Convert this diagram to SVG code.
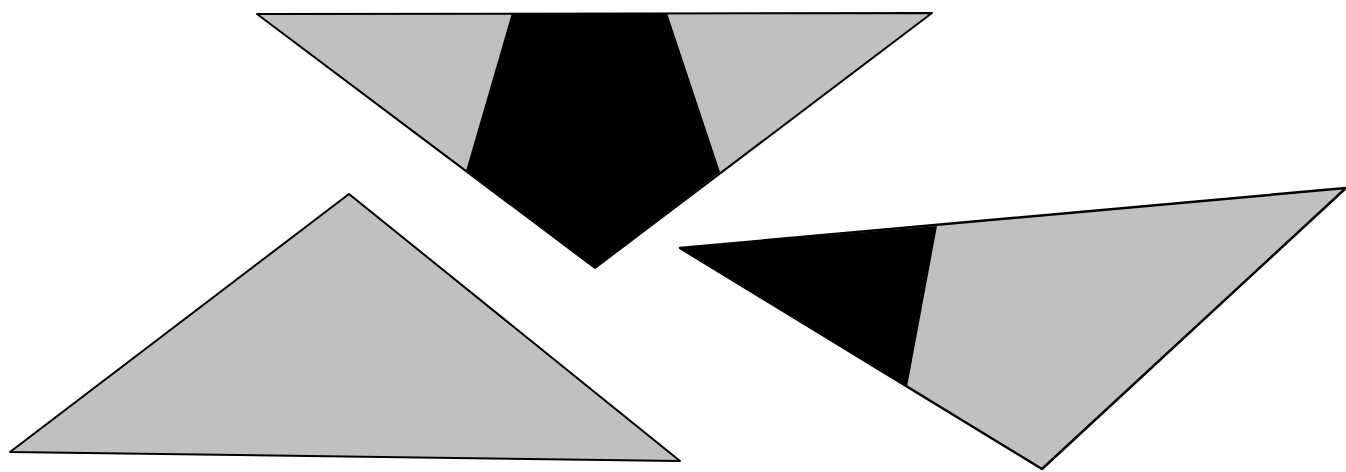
<svg xmlns="http://www.w3.org/2000/svg" width="1346" height="472" viewBox="0 0 1346 472">
<style>
.g{fill:#c0c0c0;stroke:none}
.b{fill:#000;stroke:none}
.o{fill:none;stroke:#000;stroke-width:2;stroke-linejoin:round}
</style>
<rect width="1346" height="472" fill="#fff"/>
<g id="top-triangle">
<polygon class="g" points="257,14 932,13 595,268"/>
<polygon class="b" points="512,13 667,13 720,172 595,268 466,171"/>
<polygon class="o" points="257,14 932,13 595,268"/>
</g>
<g id="left-triangle">
<polygon class="g" points="349,194 10,452 680,461"/>
<polygon class="o" points="349,194 10,452 680,461"/>
</g>
<g id="right-triangle">
<polygon class="g" points="680,248 1346,188 1042,469"/>
<polygon class="b" points="680,248 937,226 907,387"/>
<polygon class="o" points="680,248 1346,188 1042,469" style="stroke-width:2.5"/>
</g>
</svg>
